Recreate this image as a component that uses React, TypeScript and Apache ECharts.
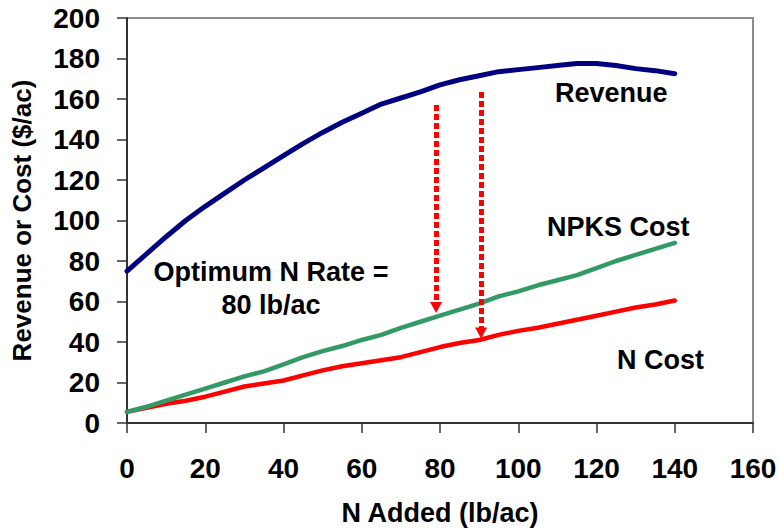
import React, { useEffect, useRef } from "react";
import * as echarts from "echarts";

const nRates = [0, 5, 10, 15, 20, 25, 30, 35, 40, 45, 50, 55, 60, 65, 70, 75, 80, 85, 90, 95, 100, 105, 110, 115, 120, 125, 130, 135, 140];
const revenue = [75, 83.5, 92, 100, 107, 113.5, 120, 126, 132, 138, 143.5, 148.5, 153, 157.5, 160.5, 163.5, 167, 169.5, 171.5, 173.5, 174.5, 175.5, 176.5, 177.5, 177.5, 176.5, 175, 174, 172.5];
const npksCost = [5.5, 8, 11, 14, 17, 20, 23, 25.5, 29, 32.5, 35.5, 38, 41, 43.5, 47, 50, 53, 56, 59, 62.5, 65, 68, 70.5, 73, 76.5, 80, 83, 86, 89];
const nCost = [5.5, 7.5, 9.5, 11, 13, 15.5, 18, 19.5, 21, 23.5, 26, 28, 29.5, 31, 32.5, 35, 37.5, 39.5, 41, 43.5, 45.5, 47, 49, 51, 53, 55, 57, 58.5, 60.5];

// arrows: [x, yStart, yEnd]
const arrows = [
  [79, 157, 57],
  [90.5, 163.5, 44.5],
];

const xTicks = { min: 0, max: 160, interval: 20 };
const yTicks = { min: 0, max: 200, interval: 20 };

const FONT = "'Liberation Sans', Arial, Helvetica, sans-serif";

export default function App() {
  const ref = useRef<HTMLDivElement>(null);
  useEffect(() => {
    if (!ref.current) return;
    const chart = echarts.init(ref.current, null, { renderer: "svg" });
    const pair = (ys: number[]) => nRates.map((x, i) => [x, ys[i]]);
    chart.setOption({
      animation: false,
      backgroundColor: "#ffffff",
      grid: {
        left: 127,
        top: 18,
        right: 25,
        bottom: 106,
        containLabel: false,
        outerBoundsMode: "none",
        show: true,
        borderColor: "#8c8c8c",
        borderWidth: 2,
        backgroundColor: "transparent",
      },
      xAxis: {
        type: "value",
        min: xTicks.min,
        max: xTicks.max,
        interval: xTicks.interval,
        name: "N Added (lb/ac)",
        nameLocation: "middle",
        nameGap: 76,
        nameTextStyle: { fontFamily: FONT, fontWeight: "bold", fontSize: 27, color: "#000" },
        axisLine: { show: true, onZero: false, lineStyle: { color: "#333", width: 2 } },
        axisTick: { show: true, inside: false, length: 10, lineStyle: { color: "#333", width: 1.5 } },
        axisLabel: { margin: 31, fontFamily: FONT, fontWeight: "bold", fontSize: 28, color: "#000" },
        splitLine: { show: false },
      },
      yAxis: {
        type: "value",
        min: yTicks.min,
        max: yTicks.max,
        interval: yTicks.interval,
        name: "Revenue or Cost ($/ac)",
        nameLocation: "middle",
        nameGap: 92,
        nameRotate: 90,
        nameTextStyle: { fontFamily: FONT, fontWeight: "bold", fontSize: 26, color: "#000" },
        axisLine: { show: true, lineStyle: { color: "#333", width: 2 } },
        axisTick: { show: true, inside: false, length: 10, lineStyle: { color: "#333", width: 1.5 } },
        axisLabel: { margin: 27, fontFamily: FONT, fontWeight: "bold", fontSize: 28, color: "#000" },
        splitLine: { show: false },
      },
      series: [
        {
          name: "Revenue",
          type: "line",
          data: pair(revenue),
          showSymbol: false,
          symbol: "none",
          lineStyle: { color: "#000080", width: 5, cap: "round", join: "round" },
          z: 3,
        },
        {
          name: "NPKS Cost",
          type: "line",
          data: pair(npksCost),
          showSymbol: false,
          symbol: "none",
          lineStyle: { color: "#339966", width: 4.5, cap: "round", join: "round" },
          z: 3,
        },
        {
          name: "N Cost",
          type: "line",
          data: pair(nCost),
          showSymbol: false,
          symbol: "none",
          lineStyle: { color: "#ff0000", width: 4.5, cap: "round", join: "round" },
          z: 2,
          markLine: {
            silent: true,
            symbol: ["none", "triangle"],
            symbolSize: [12, 11],
            symbolRotate: 180,
            label: { show: false },
            lineStyle: { color: "#ff0000", width: 5, type: [6, 3], cap: "butt" },
            data: arrows.map(([x, y0, y1]) => [{ coord: [x, y0] }, { coord: [x, y1] }]),
            z: 5,
          },
        },
      ],
      graphic: [
        { type: "text", left: 555, top: 79, style: { text: "Revenue", font: `bold 27px ${FONT}`, fill: "#000" } },
        { type: "text", left: 547, top: 213, style: { text: "NPKS Cost", font: `bold 27px ${FONT}`, fill: "#000" } },
        { type: "text", left: 617, top: 346, style: { text: "N Cost", font: `bold 27px ${FONT}`, fill: "#000" } },
        {
          type: "text",
          x: 271,
          y: 255,
          style: {
            text: "Optimum N Rate =\n80 lb/ac",
            font: `bold 27px ${FONT}`,
            lineHeight: 33,
            fill: "#000",
            align: "center",
          },
        },
      ],
    });
    return () => chart.dispose();
  }, []);
  return (
    <div
      ref={ref}
      style={{ position: "absolute", left: 0, top: 0, width: 778, height: 529, background: "#fff" }}
    />
  );
}
